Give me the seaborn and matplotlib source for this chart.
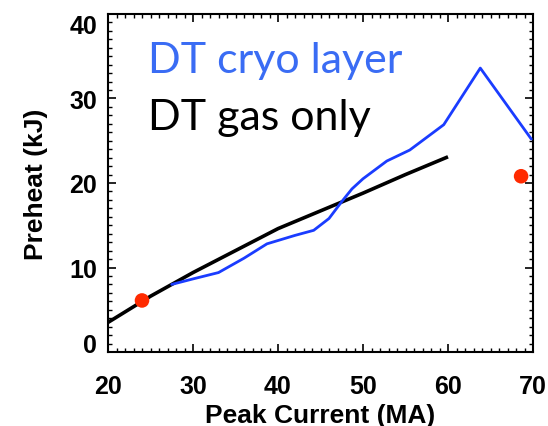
import matplotlib
matplotlib.use("Agg")
import matplotlib.pyplot as plt
from matplotlib.ticker import MultipleLocator
import seaborn as sns
import pandas as pd

# ---- data ----
gas_current = [20, 25, 30, 35, 40, 45, 50, 55, 60]
gas_preheat = [3.5, 6.6, 9.4, 12.0, 14.6, 16.7, 18.8, 21.0, 23.1]

cryo_current = [27.5, 30.0, 33.0, 36.0, 38.7, 42.0, 44.2, 46.0, 47.5, 48.7, 50.0, 52.8, 55.5, 59.5, 63.8, 69.8]
cryo_preheat = [8.0, 8.65, 9.4, 11.1, 12.8, 13.8, 14.4, 15.8, 17.8, 19.3, 20.5, 22.6, 23.9, 26.9, 33.6, 25.2]

dot_current = [24.0, 68.6]
dot_preheat = [6.1, 20.8]

x_ticks = [20, 30, 40, 50, 60, 70]
y_ticks = [0, 10, 20, 30, 40]

label_cryo = "DT cryo layer"
label_gas = "DT gas only"
x_label = "Peak Current (MA)"
y_label = "Preheat (kJ)"

sns.set_theme(style="ticks")
plt.rcParams['font.family'] = ['Liberation Sans', 'DejaVu Sans']
plt.rcParams['text.color'] = 'black'
plt.rcParams['axes.labelcolor'] = 'black'
plt.rcParams['xtick.color'] = 'black'
plt.rcParams['ytick.color'] = 'black'
plt.rcParams['xtick.labelcolor'] = 'black'
plt.rcParams['ytick.labelcolor'] = 'black'

fig = plt.figure(figsize=(5.48, 4.27), dpi=100)
ax = fig.add_axes([108/548, 1 - 353/427, (533-108)/548, (353-15)/427])

gas_df = pd.DataFrame({"current": gas_current, "preheat": gas_preheat})
cryo_df = pd.DataFrame({"current": cryo_current, "preheat": cryo_preheat})
dot_df = pd.DataFrame({"current": dot_current, "preheat": dot_preheat})

sns.lineplot(data=gas_df, x="current", y="preheat", color="black", linewidth=2.6,
             ax=ax, sort=False, solid_capstyle="butt", zorder=3)
sns.lineplot(data=cryo_df, x="current", y="preheat", color="#1a3cff", linewidth=2.0,
             ax=ax, sort=False, zorder=4)
sns.scatterplot(data=dot_df, x="current", y="preheat", color="#ff2a00", s=110,
                edgecolor="none", ax=ax, zorder=5, clip_on=False)

ax.set_xlim(20, 70)
ax.set_ylim(0, 40)
ax.set_xticks(x_ticks)
ax.set_yticks(y_ticks)
ax.xaxis.set_minor_locator(MultipleLocator(1))
ax.yaxis.set_minor_locator(MultipleLocator(1))
ax.set_xticklabels([str(v) for v in x_ticks], fontsize=18, fontweight="bold", color="black")
ax.set_yticklabels([str(v) for v in y_ticks], fontsize=18, fontweight="bold", color="black")

ax.tick_params(which="both", direction="in", top=True, right=True, color="black")
ax.tick_params(which="major", length=5.5, width=1.2)
ax.tick_params(which="minor", length=2.6, width=1.0)
ax.tick_params(axis="x", which="major", pad=15.5)
ax.tick_params(axis="y", which="major", pad=8)

for lab in ax.get_yticklabels():
    if lab.get_text() == "40":
        lab.set_va("top")
    elif lab.get_text() == "0":
        lab.set_va("baseline")

for sp in ax.spines.values():
    sp.set_linewidth(1.5)
    sp.set_color("black")

ax.set_xlabel(x_label, fontsize=19, fontweight="bold", color="black")
ax.set_ylabel(y_label, fontsize=19, fontweight="bold", color="black")
ax.xaxis.set_label_coords(0.5, -0.15)
ax.yaxis.set_label_coords(-0.14, 0.5)

ax.text(24.7, 33.1, label_cryo, color="#3a6cf4", fontsize=31, family=["Lato", "DejaVu Sans"],
        va="baseline", ha="left")
ax.text(24.7, 26.4, label_gas, color="black", fontsize=31, family=["Lato", "DejaVu Sans"],
        va="baseline", ha="left")

fig.savefig("out.png", dpi=100)
